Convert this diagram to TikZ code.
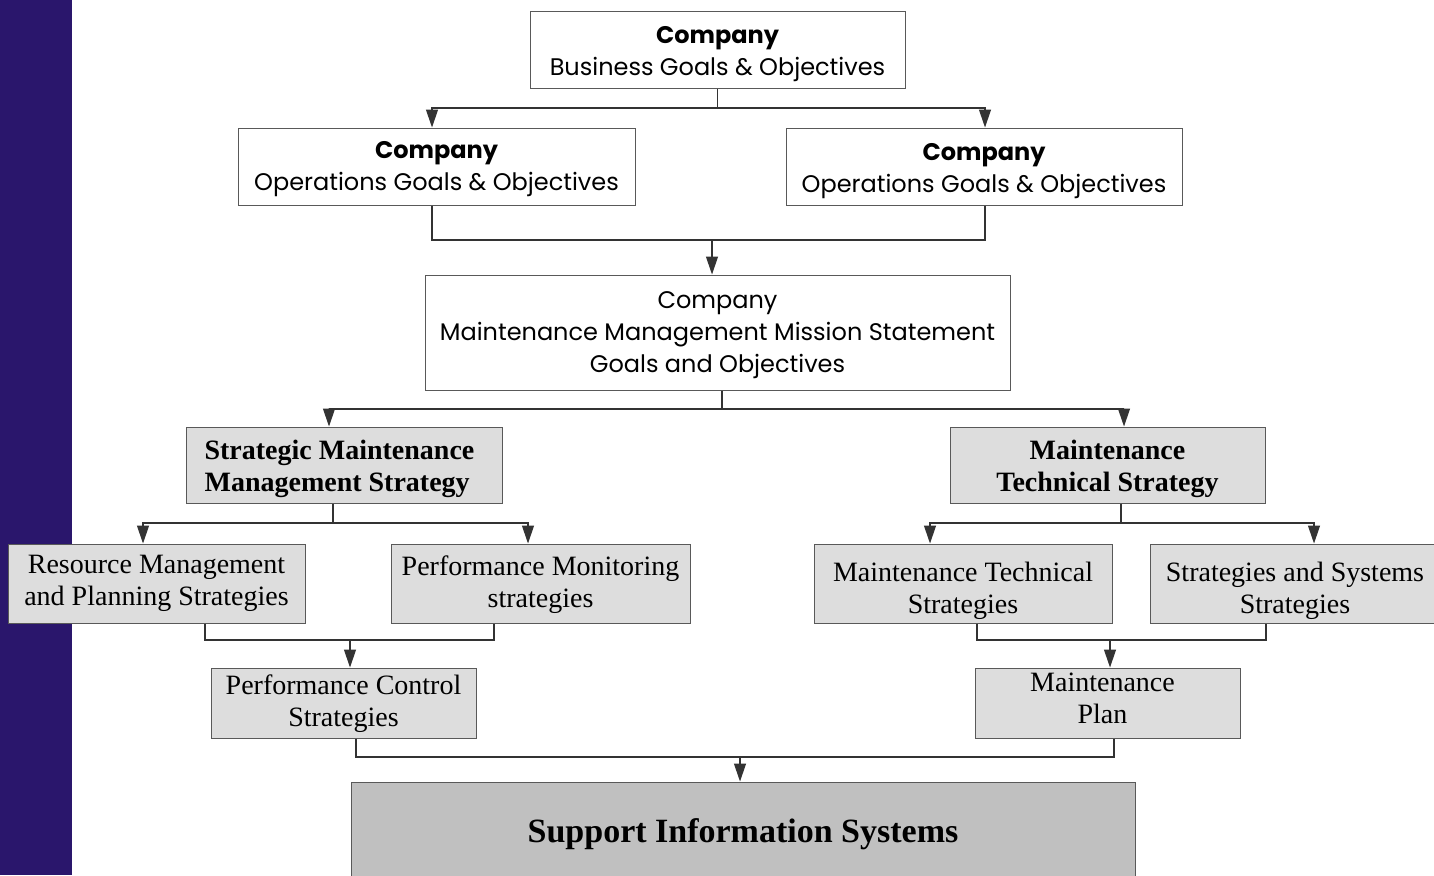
\documentclass[tikz,border=0pt]{standalone}
\usepackage{fontspec}
\setmainfont{Liberation Serif}
\newfontfamily\gothic{Poppins}
\usetikzlibrary{arrows.meta}
\definecolor{barpurple}{RGB}{42,22,108}
\definecolor{boxgray}{RGB}{221,221,221}
\definecolor{sisgray}{RGB}{192,192,192}
\newcommand\dnc[2]{\raisebox{-#1}[\height][\depth]{\begin{tabular}{@{}c@{}}#2\end{tabular}}}
\newcommand\dnl[2]{\raisebox{-#1}[\height][\depth]{\begin{tabular}{@{}l@{}}#2\end{tabular}}}
\begin{document}
\begin{tikzpicture}[x=1pt,y=-1pt,
 wbox/.style={draw=black!65, line width=1pt, fill=white, inner sep=0pt, align=center, font=\gothic\fontsize{24}{32}\selectfont},
 gbox/.style={draw=black!65, line width=1pt, fill=boxgray, inner sep=0pt, align=center, font=\fontsize{28}{32}\selectfont},
 conn/.style={draw=black!80, line width=1.2pt},
 arr/.style={conn, -{Triangle[length=18pt,width=12pt]}}]
\useasboundingbox (0,0) rectangle (1434,875);
\fill[barpurple] (0,0) rectangle (72,875);

% nodes
\node[wbox, minimum width=375pt, minimum height=76pt] (B1) at (717.5,50) {\dnc{3pt}{\textbf{Company}\\Business Goals \& Objectives}};
\node[wbox, minimum width=397pt, minimum height=77pt] (O1) at (436.5,166.5) {\dnc{2pt}{\textbf{Company}\\Operations Goals \& Objectives}};
\node[wbox, minimum width=396pt, minimum height=77pt] (O2) at (984,166.5) {\dnc{4pt}{\textbf{Company}\\Operations Goals \& Objectives}};
\node[wbox, minimum width=585pt, minimum height=115pt] (M) at (717.5,332.5) {\dnc{2pt}{Company\\Maintenance Management Mission Statement\\Goals and Objectives}};
\node[gbox, align=left, font=\bfseries\fontsize{28}{32}\selectfont, minimum width=316pt, minimum height=76pt] (S1) at (344,465) {\hspace*{-9pt}\dnl{4pt}{Strategic Maintenance\\Management Strategy}};
\node[gbox, font=\bfseries\fontsize{28}{32}\selectfont, minimum width=315pt, minimum height=76pt] (S2) at (1107.5,465) {\dnc{4pt}{Maintenance\\Technical Strategy}};
\node[gbox, minimum width=297pt, minimum height=79pt] (R1) at (156.5,583.5) {\dnc{0pt}{Resource Management\\and Planning Strategies}};
\node[gbox, minimum width=299pt, minimum height=79pt] (R2) at (540.5,583.5) {\dnc{2pt}{Performance Monitoring\\strategies}};
\node[gbox, minimum width=298pt, minimum height=79pt] (R3) at (963,583.5) {\dnc{8pt}{Maintenance Technical\\Strategies}};
\node[gbox, minimum width=290pt, minimum height=79pt] (R4) at (1295,583.5) {\dnc{8pt}{Strategies and Systems\\Strategies}};
\node[gbox, minimum width=265pt, minimum height=70pt] (P1) at (343.5,703) {\dnc{1pt}{Performance Control\\Strategies}};
\node[gbox, minimum width=265pt, minimum height=70pt] (P2) at (1107.5,703) {\hspace*{-10pt}\dnc{-2pt}{Maintenance\\Plan}};
\node[gbox, fill=sisgray, font=\bfseries\fontsize{34}{40}\selectfont, minimum width=784pt, minimum height=98pt] (SIS) at (743,831) {\dnc{3pt}{Support Information Systems}};

% junctions
\coordinate (j1) at (717.5,108);
\coordinate (j2) at (712,240);
\coordinate (j3) at (722,409);
\coordinate (j4) at (333,523);
\coordinate (j5) at (350,640);
\coordinate (j6) at (1121,523);
\coordinate (j7) at (1110,640);
\coordinate (j8) at (740,757);

% connectors
\draw[conn] (B1.south) -- (j1);
\draw[arr] (j1) -| ([xshift=-4.5pt]O1.north);
\draw[arr] (j1) -| ([xshift=1pt]O2.north);

\draw[conn] ([xshift=-4.5pt]O1.south) |- (j2) -| ([xshift=1pt]O2.south);
\draw[arr] (j2) -- (j2 |- M.north);

\draw[conn] (j3 |- M.south) -- (j3);
\draw[arr] (j3) -| ([xshift=-15pt]S1.north);
\draw[arr] (j3) -| ([xshift=16.5pt]S2.north);

\draw[conn] (j4 |- S1.south) -- (j4);
\draw[arr] (j4) -| ([xshift=-13.5pt]R1.north);
\draw[arr] (j4) -| ([xshift=-12.5pt]R2.north);

\draw[conn] ([xshift=48.5pt]R1.south) |- (j5) -| ([xshift=-46.5pt]R2.south);
\draw[arr] (j5) -- (j5 |- P1.north);

\draw[conn] (j6 |- S2.south) -- (j6);
\draw[arr] (j6) -| ([xshift=-33pt]R3.north);
\draw[arr] (j6) -| ([xshift=19pt]R4.north);

\draw[conn] ([xshift=14pt]R3.south) |- (j7) -| ([xshift=-29pt]R4.south);
\draw[arr] (j7) -- (j7 |- P2.north);

\draw[conn] ([xshift=12.5pt]P1.south) |- (j8) -| ([xshift=6.5pt]P2.south);
\draw[arr] (j8) -- (j8 |- SIS.north);
\end{tikzpicture}
\end{document}
